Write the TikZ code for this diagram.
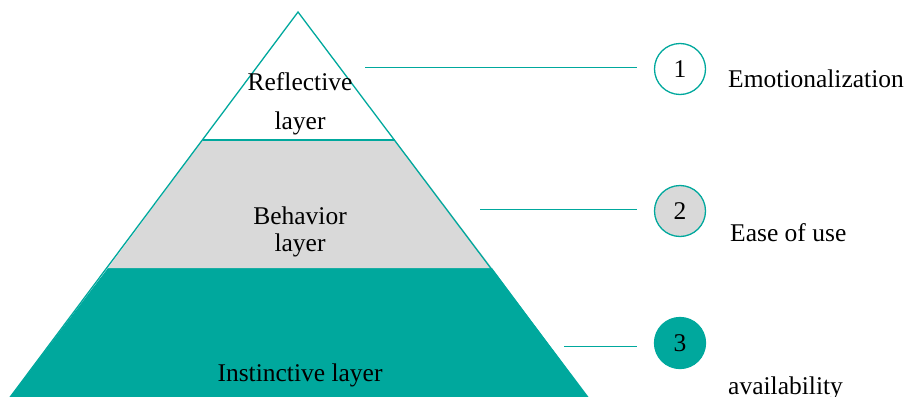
\documentclass[tikz,border=0pt]{standalone}
\usepackage{fontspec}
\setmainfont{Liberation Serif}
\definecolor{teal1}{HTML}{00A89D}
\definecolor{gray1}{HTML}{D9D9D9}
\begin{document}
\begin{tikzpicture}[x=1pt,y=-1pt,
  lbl/.style={font=\fontsize{25.5}{28}\selectfont, text=black, inner sep=0pt},
  num/.style={circle, draw=teal1, line width=1.3pt, minimum size=51pt, inner sep=0pt, font=\fontsize{25.5}{28}\selectfont},
  link/.style={draw=teal1, line width=1pt}]
\useasboundingbox (0,0) rectangle (909,396);
\clip (0,0) rectangle (909,396);
% layers
\fill[teal1] (108,268) -- (492,268) -- (590,400) -- (8,400) -- cycle;
\fill[gray1] (203,140) -- (395,140) -- (492,268) -- (108,268) -- cycle;
\draw[teal1, line width=1.3pt] (8,400) -- (298,12) -- (590,400);
\draw[teal1, line width=1.3pt] (203,140) -- (395,140);
% layer labels
\node[lbl, anchor=base] (r1) at (300,90) {Reflective};
\node[lbl, anchor=base] (r2) at (300,129) {layer};
\node[lbl, anchor=base] (b1) at (300,224) {Behavior};
\node[lbl, anchor=base] (b2) at (300,251) {layer};
\node[lbl, anchor=base] (i1) at (300,381) {Instinctive layer};
% connectors
\coordinate (p1) at (365,67);
\coordinate (p2) at (480,209);
\coordinate (p3) at (564,346);
\node[num, fill=white] (c1) at (680,69) {1};
\node[num, fill=gray1] (c2) at (680,211) {2};
\node[num, fill=teal1] (c3) at (680,343) {3};
\draw[link] (p1) -- ([xshift=-17pt]c1.west |- p1);
\draw[link] (p2) -- ([xshift=-17pt]c2.west |- p2);
\draw[link] (p3) -- ([xshift=-17pt]c3.west |- p3);
% right labels
\node[lbl, anchor=base west] (t1) at (728,87) {Emotionalization};
\node[lbl, anchor=base west] (t2) at (730,241) {Ease of use};
\node[lbl, anchor=base west] (t3) at (728,394) {availability};
\end{tikzpicture}
\end{document}
